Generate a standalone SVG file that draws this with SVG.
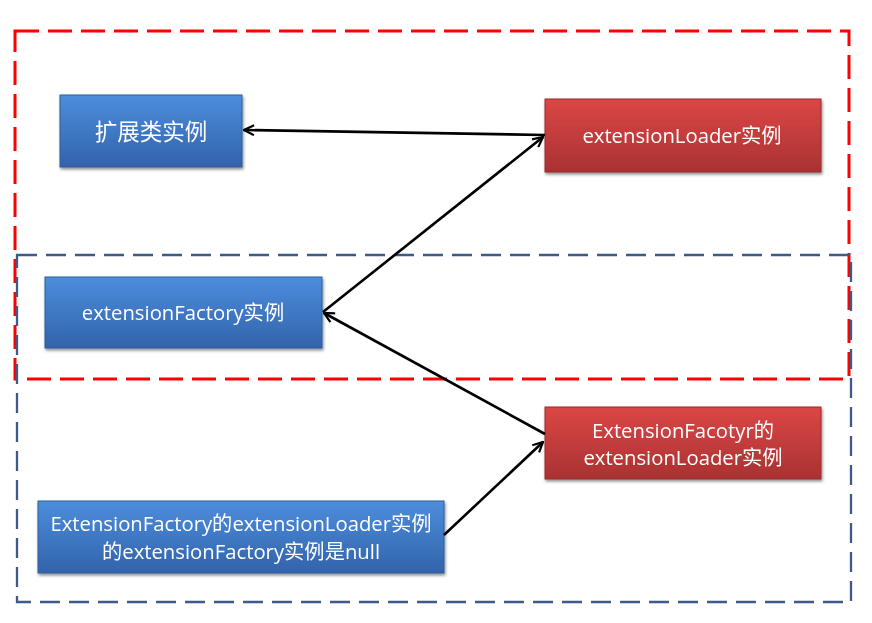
<svg xmlns="http://www.w3.org/2000/svg" width="872" height="623" viewBox="0 0 872 623">
<style>
.t{font-family:"Open Sans","Noto Sans CJK SC",sans-serif;font-size:20.3px;fill:#fff;text-anchor:middle;dominant-baseline:central}
.c{fill:none;stroke:#000;stroke-width:2.6}
.bl{fill:url(#gb);stroke:#2F5C9A;stroke-width:1}
.rd{fill:url(#gr);stroke:#9A2D2D;stroke-width:1}
</style>
<defs>
<linearGradient id="gb" x1="0" y1="0" x2="0" y2="1"><stop offset="0" stop-color="#4C8DDC"/><stop offset="1" stop-color="#3263AB"/></linearGradient>
<linearGradient id="gr" x1="0" y1="0" x2="0" y2="1"><stop offset="0" stop-color="#DC4646"/><stop offset="1" stop-color="#A93232"/></linearGradient>
<filter id="sh" x="-10%" y="-10%" width="120%" height="130%"><feDropShadow dx="1" dy="2" stdDeviation="1.5" flood-opacity="0.45"/></filter>
<marker id="a" viewBox="0 0 12 12" refX="11" refY="6" markerWidth="12" markerHeight="12" markerUnits="userSpaceOnUse" orient="auto-start-reverse"><path d="M1,1 L11,6 L1,11" fill="none" stroke="#000" stroke-width="2.2"/></marker>
</defs>
<rect x="15" y="31" width="834" height="348" fill="none" stroke="#FF0000" stroke-width="3" stroke-dasharray="24,9"/>
<rect x="17" y="255" width="834" height="347" fill="none" stroke="#3D5A89" stroke-width="2.3" stroke-dasharray="20,9"/>
<g id="n1" filter="url(#sh)"><rect class="bl" x="60" y="95" width="182" height="72"/><text class="t" x="151" y="131" style="font-size:22.5px">扩展类实例</text></g>
<g id="n2" filter="url(#sh)"><rect class="rd" x="545" y="99" width="276" height="73"/><text class="t" x="682" y="135">extensionLoader实例</text></g>
<g id="n3" filter="url(#sh)"><rect class="bl" x="45" y="277" width="277" height="71"/><text class="t" x="183" y="312">extensionFactory实例</text></g>
<g id="n4" filter="url(#sh)"><rect class="rd" x="545" y="407" width="276" height="72"/><text class="t" x="683" y="430">ExtensionFacotyr的</text><text class="t" x="683" y="457">extensionLoader实例</text></g>
<g id="n5" filter="url(#sh)"><rect class="bl" x="38" y="501" width="406" height="72"/><text class="t" x="241" y="523">ExtensionFactory的extensionLoader实例</text><text class="t" x="241" y="551">的extensionFactory实例是null</text></g>
<g id="connectors">
<line class="c" x1="545" y1="135" x2="244" y2="130" marker-end="url(#a)"/>
<line class="c" x1="323" y1="312" x2="543" y2="137" marker-end="url(#a)"/>
<line class="c" x1="545" y1="434" x2="324" y2="313" marker-end="url(#a)"/>
<line class="c" x1="444" y1="535" x2="543" y2="442" marker-end="url(#a)"/>
</g>
</svg>
